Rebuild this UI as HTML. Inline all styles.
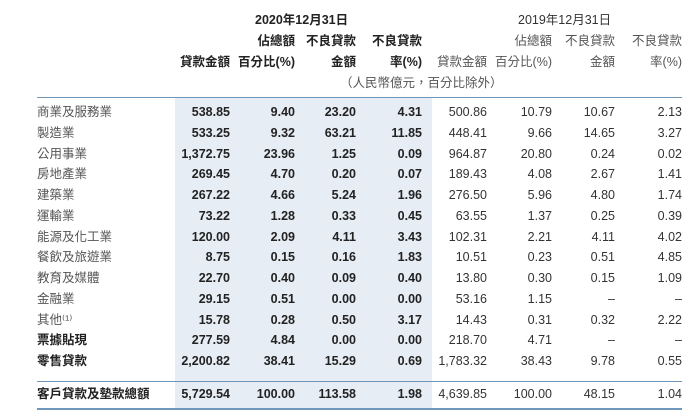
<!DOCTYPE html>
<html><head><meta charset="utf-8"><style>
body{margin:0;width:700px;height:419px;background:#fff;position:relative;overflow:hidden;font-family:"Liberation Sans","Noto Sans CJK TC",sans-serif;font-size:12.5px;color:#333}
.a{position:absolute;white-space:nowrap;line-height:14px}
.b{font-weight:bold;color:#222}
.l{color:#555}
.hl{position:absolute;left:37px;width:645px;background:#6f97bb}
</style></head><body>
<div style="position:absolute;left:175px;top:98px;width:257px;height:312px;background:#e7edf4"></div>
<div class="hl" style="top:97px;height:1px"></div>
<div class="hl" style="top:381px;height:1px"></div>
<div class="hl" style="top:408px;height:2px"></div>
<div id="t"></div>
<script>
const labels=["商業及服務業","製造業","公用事業","房地產業","建築業","運輸業","能源及化工業","餐飲及旅遊業","教育及媒體","金融業","其他⁽¹⁾","票據貼現","零售貸款","客戶貸款及墊款總額"];
const y2020=[["538.85","9.40","23.20","4.31"],["533.25","9.32","63.21","11.85"],["1,372.75","23.96","1.25","0.09"],["269.45","4.70","0.20","0.07"],["267.22","4.66","5.24","1.96"],["73.22","1.28","0.33","0.45"],["120.00","2.09","4.11","3.43"],["8.75","0.15","0.16","1.83"],["22.70","0.40","0.09","0.40"],["29.15","0.51","0.00","0.00"],["15.78","0.28","0.50","3.17"],["277.59","4.84","0.00","0.00"],["2,200.82","38.41","15.29","0.69"],["5,729.54","100.00","113.58","1.98"]];
const y2019=[["500.86","10.79","10.67","2.13"],["448.41","9.66","14.65","3.27"],["964.87","20.80","0.24","0.02"],["189.43","4.08","2.67","1.41"],["276.50","5.96","4.80","1.74"],["63.55","1.37","0.25","0.39"],["102.31","2.21","4.11","4.02"],["10.51","0.23","0.51","4.85"],["13.80","0.30","0.15","1.09"],["53.16","1.15","–","–"],["14.43","0.31","0.32","2.22"],["218.70","4.71","–","–"],["1,783.32","38.43","9.78","0.55"],["4,639.85","100.00","48.15","1.04"]];
const rights=[230,295,356,422,487,552,615,682];
const t=document.getElementById('t');
function add(txt,x,y,cls,right,name){const d=document.createElement('div');d.className='a '+cls;d.textContent=txt;
if(right){d.style.right=(700-x)+'px';}else d.style.left=x+'px';d.style.top=y+'px';


t.appendChild(d);}
labels.forEach((lb,i)=>{const y=i<13?105+i*20.75:387;const bold=i>=11;
add(lb,37,y,bold?'b':'l',false,'row-label');
y2020[i].forEach((v,j)=>add(v,rights[j],y,'b',true,'cell-2020'));
y2019[i].forEach((v,j)=>add(v,rights[4+j],y,'',true,'cell-2019'));});
add("2020年12月31日",255,13,'b',false,'header-2020');
add("2019年12月31日",518,13,'',false,'header-2019');
const h1=["","佔總額","不良貸款","不良貸款","","佔總額","不良貸款","不良貸款"];
const h2=["貸款金額","百分比(%)","金額","率(%)","貸款金額","百分比(%)","金額","率(%)"];
h1.forEach((h,j)=>{if(h)add(h,rights[j],34,j<4?'b':'l',true,'column-header');});
h2.forEach((h,j)=>add(h,rights[j],55,j<4?'b':'l',true,'column-header'));
add("（人民幣億元，百分比除外）",340,76,'l',false,'unit-note');
</script>
</body></html>
